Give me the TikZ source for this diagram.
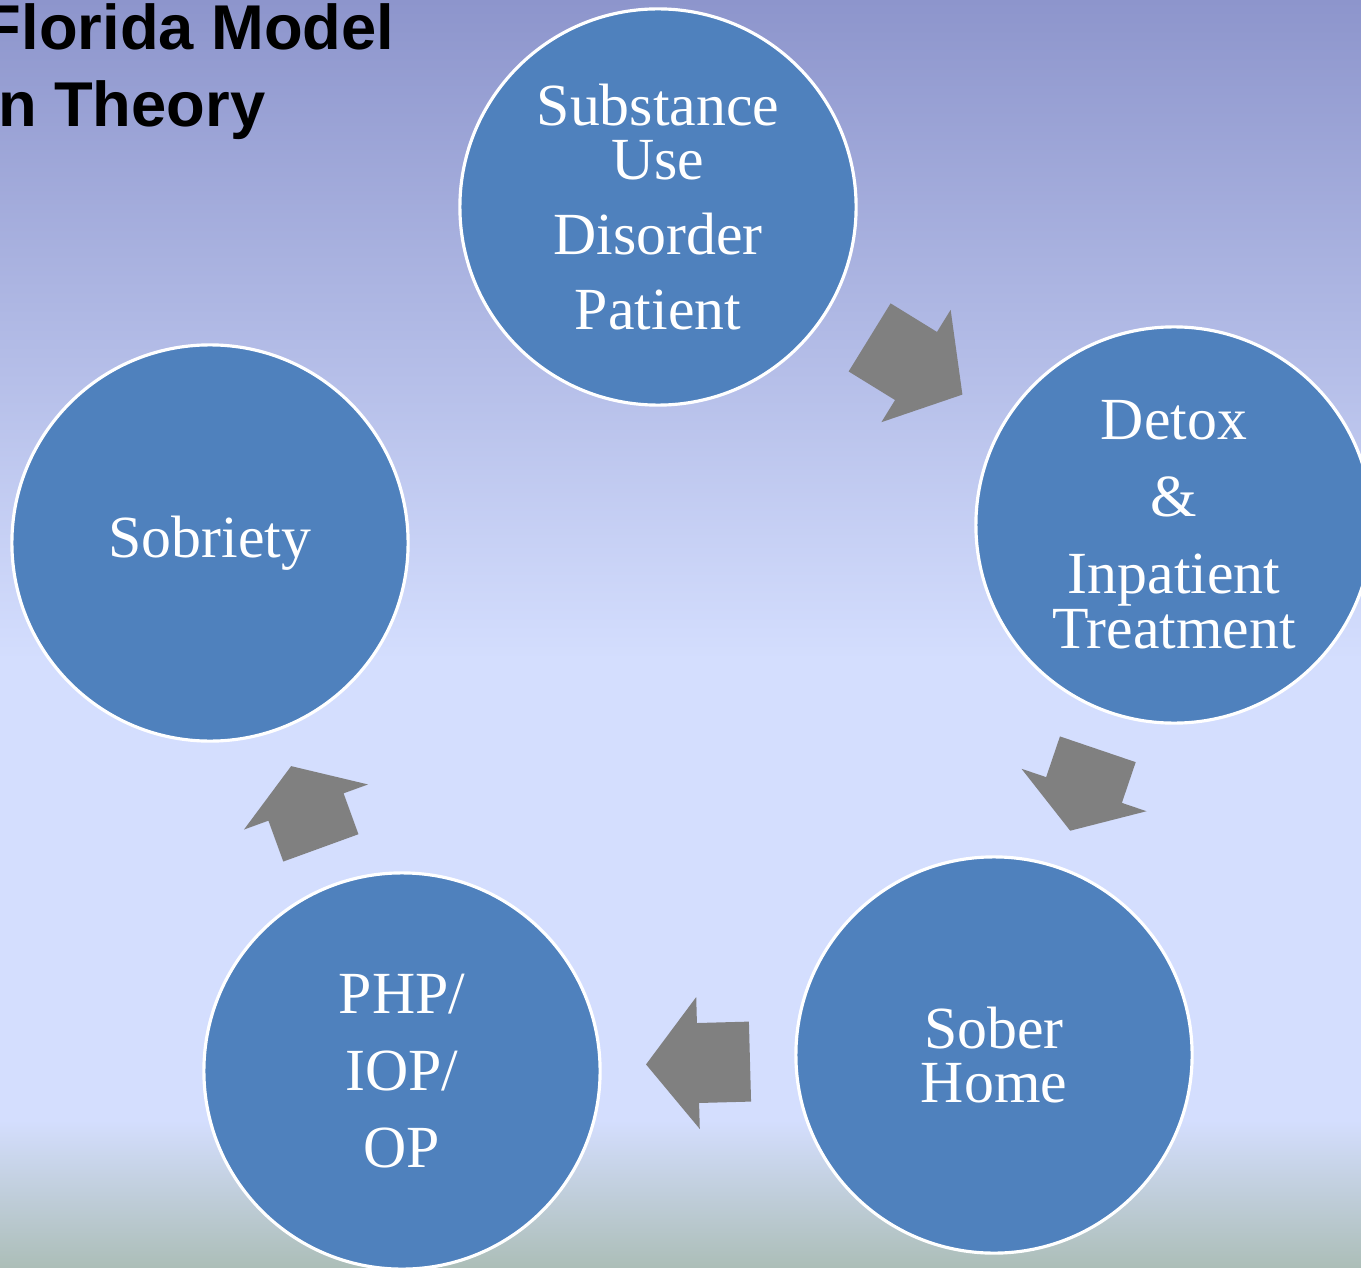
\documentclass[tikz,border=0pt]{standalone}
\usepackage{fontspec}
\setmainfont{Liberation Serif}
\newfontfamily\titlefont{Liberation Sans}
\usetikzlibrary{calc}

\definecolor{bgtop}{RGB}{141,149,204}
\definecolor{bglight}{RGB}{212,222,254}
\definecolor{bgbottom}{RGB}{172,190,184}
\definecolor{stageblue}{RGB}{79,129,189}
\definecolor{arrowgray}{RGB}{128,128,128}

\tikzset{
    pics/blockarrow/.style={code={
        \fill[arrowgray] ({-#1/2},40) -- (0,40) -- (0,66) -- ({#1/2},0)
            -- (0,-66) -- (0,-40) -- ({-#1/2},-40) -- cycle;
    }}
}

\begin{document}
\begin{tikzpicture}[
            x=0.01cm, y=-0.01cm,
            stage/.style={circle, draw=white, line width=0.9pt, fill=stageblue,
                minimum size=3.96cm, inner sep=0pt, text=white, align=center,
                font=\fontsize{17}{15.6}\selectfont},
            headline/.style={anchor=base east, inner sep=0pt,
                font=\titlefont\bfseries\fontsize{18}{21}\selectfont}]

            \useasboundingbox (0,0) rectangle (1361,1267);
            \clip (0,0) rectangle (1361,1267);

            % background
            \shade[top color=bgtop, bottom color=bglight] (0,0) rectangle (1361,660);
            \fill[bglight] (0,659) rectangle (1361,1121);
            \shade[top color=bglight, bottom color=bgbottom] (0,1120) rectangle (1361,1267);

            \node[headline] (title1) at (395,50) {Florida Model};
            \node[headline] (title2) at (266,127) {n Theory};

            \node[stage] (sud) at (658,207) {Substance\\Use\\[5.7pt]Disorder\\[5.7pt]Patient};
            \node[stage] (detox) at (1174,525) {Detox\\[6.3pt]\&\\[6.3pt]Inpatient\\Treatment};
            \node[stage] (sober) at (994,1055) {Sober\\Home};
            \node[stage] (php) at (402,1071) {PHP/\\[6.3pt]IOP/\\[6.3pt]OP};
            \node[stage] (sobriety) at (210,543) {Sobriety};

            \foreach \a/\b/\len in {sud/detox/109, detox/sober/86, sober/php/104, php/sobriety/87}{
                \path let \p1=($(\b)-(\a)$), \n1={atan2(\y1,\x1)} in
                    ($(\a)!0.5!(\b)$) pic[rotate=\n1] {blockarrow=\len};
            }
        \end{tikzpicture}
\end{document}
